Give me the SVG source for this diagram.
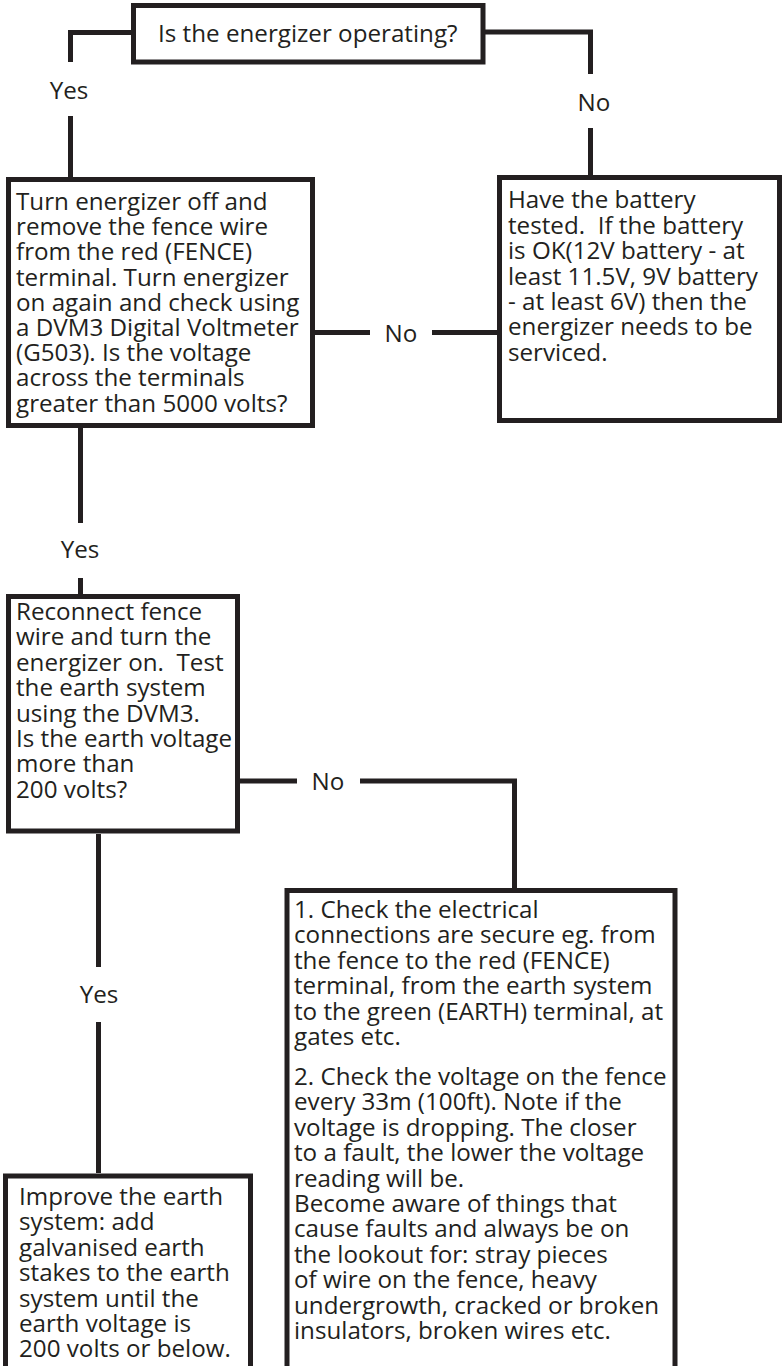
<svg xmlns="http://www.w3.org/2000/svg" width="782" height="1366" viewBox="0 0 782 1366">
<style>
.box{fill:#fff;stroke:#231f20;stroke-width:5}
.ln{fill:none;stroke:#231f20;stroke-width:5}
text{font-family:"Open Sans","Noto Sans",sans-serif;font-size:24.2px;fill:#231f20}
.lbl{text-anchor:middle}
</style>
<rect width="782" height="1366" fill="#fff"/>
<g id="connectors">
<path class="ln" d="M133.5,32.5H70.5V62M70.5,116V177"/>
<path class="ln" d="M483,32H590.5V74M590.5,128V175"/>
<path class="ln" d="M313,332.5H370M432,332.5H497"/>
<path class="ln" d="M80.5,428V523M80.5,578V594"/>
<path class="ln" d="M240,781H297M360,781H514.5V888"/>
<path class="ln" d="M98.5,834V967M98.5,1022V1173"/>
<text class="lbl" x="69" y="99">Yes</text>
<text class="lbl" x="594" y="111">No</text>
<text class="lbl" x="401" y="342">No</text>
<text class="lbl" x="80" y="558">Yes</text>
<text class="lbl" x="328" y="790">No</text>
<text class="lbl" x="99" y="1003">Yes</text>
</g>
<g id="n1">
<rect class="box" x="133.5" y="5.5" width="349.5" height="56.5"/>
<text x="158" y="42">Is the energizer operating?</text>
</g>
<g id="n2">
<rect class="box" x="8.5" y="179.5" width="304" height="246"/>
<text><tspan x="16" y="210">Turn energizer off and</tspan><tspan x="16" y="235.2">remove the fence wire</tspan><tspan x="16" y="260.4">from the red (FENCE)</tspan><tspan x="16" y="285.6">terminal. Turn energizer</tspan><tspan x="16" y="310.8">on again and check using</tspan><tspan x="16" y="336">a DVM3 Digital Voltmeter</tspan><tspan x="16" y="361.2">(G503). Is the voltage</tspan><tspan x="16" y="386.4">across the terminals</tspan><tspan x="16" y="411.6">greater than 5000 volts?</tspan></text>
</g>
<g id="n3">
<rect class="box" x="499.5" y="177.5" width="280" height="243"/>
<text><tspan x="508" y="208.3">Have the battery</tspan><tspan x="508" y="233.7">tested.&#160; If the battery</tspan><tspan x="508" y="259.1">is OK(12V battery - at</tspan><tspan x="508" y="284.5">least 11.5V, 9V battery</tspan><tspan x="508" y="309.9">- at least 6V) then the</tspan><tspan x="508" y="335.3">energizer needs to be</tspan><tspan x="508" y="360.7">serviced.</tspan></text>
</g>
<g id="n4">
<rect class="box" x="8.5" y="596.5" width="229" height="234.5"/>
<text><tspan x="16" y="620">Reconnect fence</tspan><tspan x="16" y="645.4">wire and turn the</tspan><tspan x="16" y="670.8">energizer on.&#160; Test</tspan><tspan x="16" y="696.2">the earth system</tspan><tspan x="16" y="721.6">using the DVM3.</tspan><tspan x="16" y="747">Is the earth voltage</tspan><tspan x="16" y="772.4">more than</tspan><tspan x="16" y="797.8">200 volts?</tspan></text>
</g>
<g id="n5">
<rect class="box" x="287" y="890.5" width="388" height="500"/>
<text><tspan x="294" y="918">1. Check the electrical</tspan><tspan x="294" y="943.4">connections are secure eg. from</tspan><tspan x="294" y="968.8">the fence to the red (FENCE)</tspan><tspan x="294" y="994.2">terminal, from the earth system</tspan><tspan x="294" y="1019.6">to the green (EARTH) terminal, at</tspan><tspan x="294" y="1045">gates etc.</tspan></text>
<text><tspan x="294" y="1085">2. Check the voltage on the fence</tspan><tspan x="294" y="1110.4">every 33m (100ft). Note if the</tspan><tspan x="294" y="1135.8">voltage is dropping. The closer</tspan><tspan x="294" y="1161.2">to a fault, the lower the voltage</tspan><tspan x="294" y="1186.6">reading will be.</tspan><tspan x="294" y="1212">Become aware of things that</tspan><tspan x="294" y="1237.4">cause faults and always be on</tspan><tspan x="294" y="1262.8">the lookout for: stray pieces</tspan><tspan x="294" y="1288.2">of wire on the fence, heavy</tspan><tspan x="294" y="1313.6">undergrowth, cracked or broken</tspan><tspan x="294" y="1339">insulators, broken wires etc.</tspan></text>
</g>
<g id="n6">
<rect class="box" x="5.5" y="1176" width="245" height="220"/>
<text><tspan x="19" y="1205">Improve the earth</tspan><tspan x="19" y="1230.4">system: add</tspan><tspan x="19" y="1255.8">galvanised earth</tspan><tspan x="19" y="1281.2">stakes to the earth</tspan><tspan x="19" y="1306.6">system until the</tspan><tspan x="19" y="1332">earth voltage is</tspan><tspan x="19" y="1357.4">200 volts or below.</tspan></text>
</g>
</svg>
